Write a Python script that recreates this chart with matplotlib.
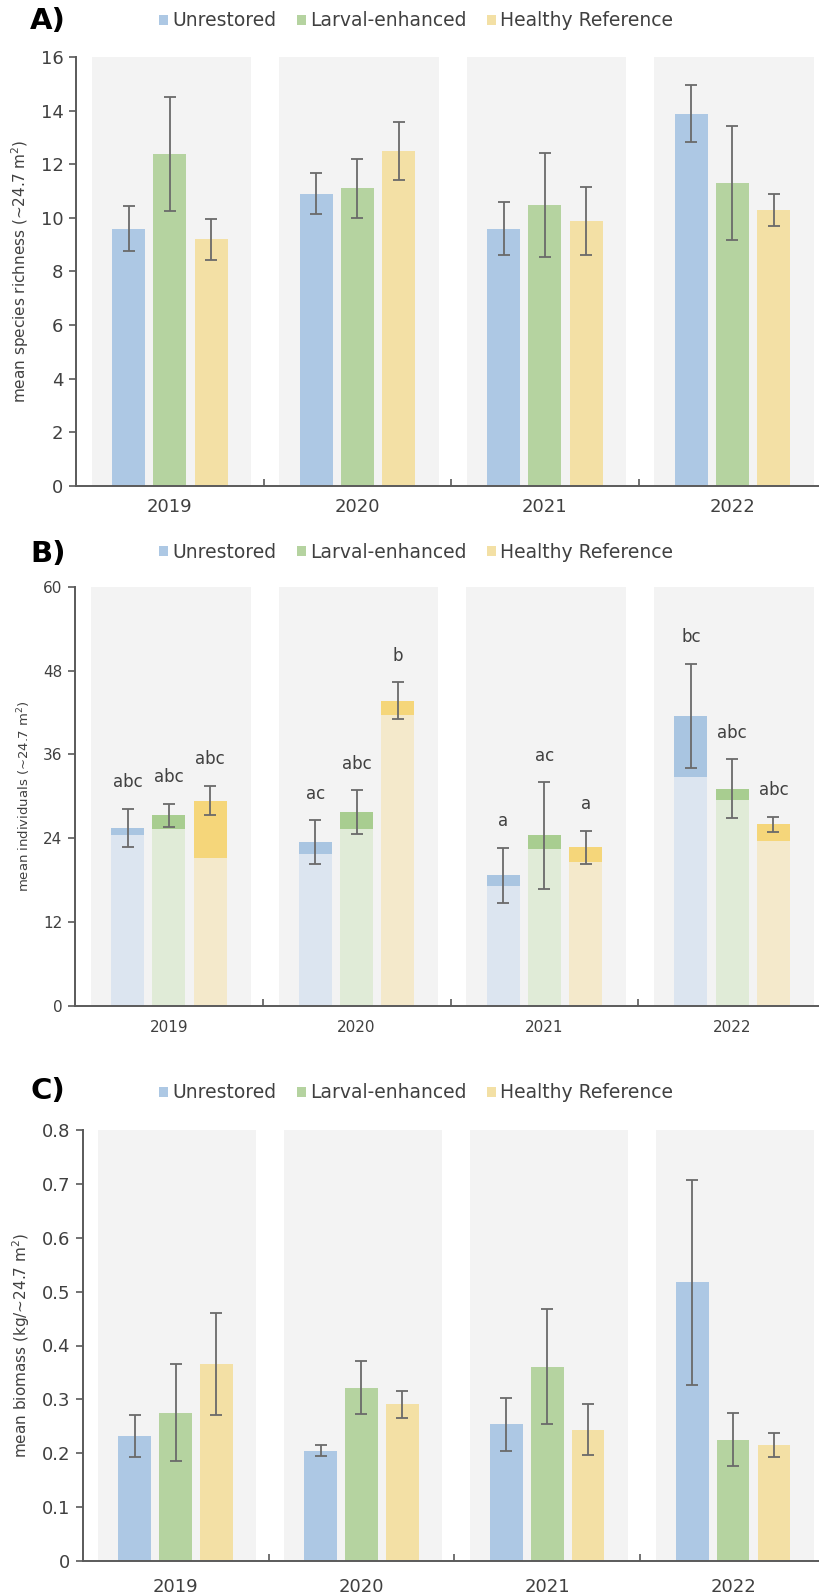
import numpy as np
import matplotlib
matplotlib.use("Agg")
import matplotlib.pyplot as plt
from matplotlib.patches import Patch
from matplotlib.ticker import FuncFormatter

# ---------------- data ----------------
years = ['2019', '2020', '2021', '2022']
groups = ['Unrestored', 'Larval-enhanced', 'Healthy Reference']

# A) species richness
rich_unrest = [9.6, 10.9, 9.6, 13.9]
rich_larval = [12.4, 11.1, 10.5, 11.3]
rich_healthy = [9.2, 12.5, 9.9, 10.3]
rich_unrest_se = [0.85, 0.77, 0.98, 1.07]
rich_larval_se = [2.13, 1.12, 1.94, 2.14]
rich_healthy_se = [0.77, 1.10, 1.27, 0.61]

# B) individuals (total mean and lower part of stacked bar)
ind_unrest = [25.5, 23.4, 18.7, 41.5]
ind_larval = [27.3, 27.7, 24.4, 31.1]
ind_healthy = [29.4, 43.7, 22.7, 26.0]
ind_unrest_base = [24.5, 21.7, 17.1, 32.8]
ind_larval_base = [25.3, 25.3, 22.5, 29.5]
ind_healthy_base = [21.2, 41.6, 20.6, 23.6]
ind_unrest_se = [2.75, 3.15, 3.95, 7.45]
ind_larval_se = [1.65, 3.15, 7.6, 4.2]
ind_healthy_se = [2.1, 2.6, 2.4, 1.1]
ind_unrest_lab = ['abc', 'ac', 'a', 'bc']
ind_larval_lab = ['abc', 'abc', 'ac', 'abc']
ind_healthy_lab = ['abc', 'b', 'a', 'abc']

# C) biomass
bio_unrest = [0.232, 0.205, 0.254, 0.517]
bio_larval = [0.275, 0.322, 0.361, 0.225]
bio_healthy = [0.366, 0.291, 0.244, 0.215]
bio_unrest_se = [0.039, 0.010, 0.049, 0.190]
bio_larval_se = [0.090, 0.050, 0.106, 0.049]
bio_healthy_se = [0.095, 0.025, 0.048, 0.022]

# ---------------- style ----------------
col = ['#adc8e4', '#b5d3a0', '#f3e0a5']
col_light = ['#dce5f0', '#e0ebd7', '#f4e9cb']
col_dark = ['#a9c5e1', '#a8cd90', '#f5d67a']
bg_col = '#f3f3f3'
txt_col = '#404040'
ax_col = '#5a5a5a'
err_col = '#6a6a6a'

offs = [-0.22, 0.0, 0.22]
bw = 0.176
x = np.arange(len(years))

plt.rcParams['font.family'] = ['DejaVu Sans']

fig = plt.figure(figsize=(8.19, 15.93), dpi=100)
H = 1593.0
W = 819.0


def make_axes(left, right, top, bottom):
    return fig.add_axes([left / W, 1 - bottom / H, (right - left) / W, (bottom - top) / H])


def style_axes(ax, ymax, yticks, tick_fs, ylab, ylab_fs, xpad):
    ax.set_xlim(-0.5, 3.5)
    ax.set_ylim(0, ymax)
    for i in x:
        ax.axvspan(i - 0.415, i + 0.435, ymin=0, ymax=1, color=bg_col, zorder=0, lw=0)
    for s in ['top', 'right']:
        ax.spines[s].set_visible(False)
    for s in ['left', 'bottom']:
        ax.spines[s].set_color(ax_col)
        ax.spines[s].set_linewidth(1.4)
    ax.set_yticks(yticks)
    ax.yaxis.set_major_formatter(FuncFormatter(lambda v, p: f'{v:g}'))
    ax.tick_params(axis='y', direction='out', length=5, width=1.2, color=ax_col,
                   labelsize=tick_fs, labelcolor=txt_col, pad=4)
    # group separators as inward ticks, year labels on minor ticks
    ax.set_xticks([0.5, 1.5, 2.5])
    ax.set_xticklabels([])
    ax.tick_params(axis='x', which='major', direction='in', length=5, width=1.2, color=ax_col)
    ax.set_xticks(x, minor=True)
    ax.set_xticklabels(years, minor=True)
    ax.tick_params(axis='x', which='minor', length=0, labelsize=tick_fs,
                   labelcolor=txt_col, pad=xpad)
    ax.set_ylabel(ylab, fontsize=ylab_fs, color=txt_col, labelpad=7)


def add_legend(ycen, fs):
    handles = [Patch(facecolor=c, edgecolor='none', label=g) for c, g in zip(col, groups)]
    fig.legend(handles=handles, loc='center', bbox_to_anchor=(0.508, 1 - ycen / H),
               ncol=3, frameon=False, fontsize=fs, handlelength=0.5, handleheight=0.5,
               handletextpad=0.2, columnspacing=1.1, labelcolor=txt_col)


def err(ax, xs, ys, es):
    ax.errorbar(xs, ys, yerr=es, fmt='none', ecolor=err_col, elinewidth=1.3,
                capsize=4, capthick=1.3, zorder=5)


# ---------------- A) richness ----------------
axA = make_axes(76, 826, 57.3, 485.7)
style_axes(axA, 16, np.arange(0, 17, 2), 13, 'mean species richness (~24.7 m$^2$)', 11, 9)
for k, (m, e) in enumerate([(rich_unrest, rich_unrest_se),
                            (rich_larval, rich_larval_se),
                            (rich_healthy, rich_healthy_se)]):
    axA.bar(x + offs[k], m, width=bw, color=col[k], zorder=2)
    err(axA, x + offs[k], m, e)

# ---------------- B) individuals ----------------
axB = make_axes(75, 826, 586.7, 1006)
style_axes(axB, 60, np.arange(0, 61, 12), 11, 'mean individuals (~24.7 m$^2$)', 9.5, 10)
for k, (m, b, e, lab) in enumerate([(ind_unrest, ind_unrest_base, ind_unrest_se, ind_unrest_lab),
                                    (ind_larval, ind_larval_base, ind_larval_se, ind_larval_lab),
                                    (ind_healthy, ind_healthy_base, ind_healthy_se, ind_healthy_lab)]):
    m = np.array(m)
    b = np.array(b)
    axB.bar(x + offs[k], b, width=bw, color=col_light[k], zorder=2)
    axB.bar(x + offs[k], m - b, bottom=b, width=bw, color=col_dark[k], zorder=2)
    err(axB, x + offs[k], m, e)
    for i in x:
        axB.text(x[i] + offs[k], m[i] + e[i] + 3.8, lab[i], ha='center', va='center',
                 fontsize=12, color=txt_col)

# ---------------- C) biomass ----------------
axC = make_axes(82.7, 826, 1130, 1561)
style_axes(axC, 0.8, np.arange(0, 0.81, 0.1), 13, 'mean biomass (kg/~24.7 m$^2$)', 11, 12)
for k, (m, e) in enumerate([(bio_unrest, bio_unrest_se),
                            (bio_larval, bio_larval_se),
                            (bio_healthy, bio_healthy_se)]):
    axC.bar(x + offs[k], m, width=bw, color=col[k], zorder=2)
    err(axC, x + offs[k], m, e)

# panel letters and legends
for lab, yc, ly in [('A)', 21, 21), ('B)', 554, 552), ('C)', 1091, 1093)]:
    fig.text(48 / W, 1 - yc / H, lab, ha='center', va='center', fontsize=21,
             fontweight='bold', color='black')
    add_legend(ly, 13.5)

fig.savefig('out.png', dpi=100)
